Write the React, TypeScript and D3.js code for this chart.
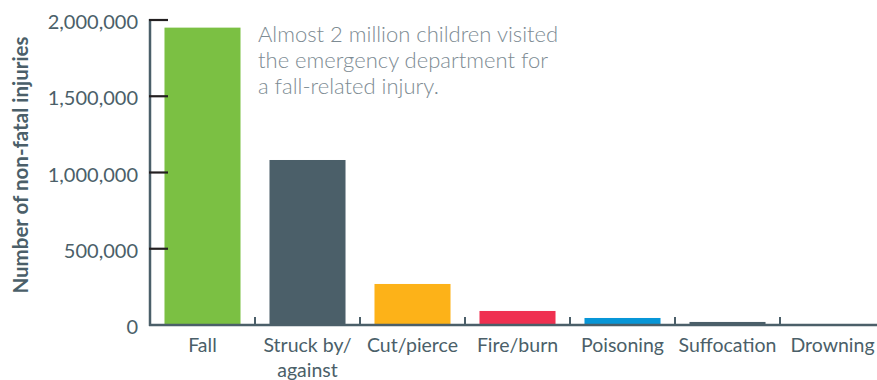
import React from "react";
import * as d3 from "d3";

const categories = ["Fall", "Struck by/\nagainst", "Cut/pierce", "Fire/burn", "Poisoning", "Suffocation", "Drowning"];
const values = [1950000, 1082000, 269000, 92000, 46000, 20000, 4000];
const barColors = ["#7bc043", "#4b5f69", "#fdb218", "#ef3050", "#0796d7", "#4b5f69", "#4b5f69"];
const yTicks = [0, 500000, 1000000, 1500000, 2000000];
const annotation = ["Almost 2 million children visited", "the emergency department for", "a fall-related injury."];
const yTitle = "Number of non-fatal injuries";

const W = 877;
const H = 380;
const slate = "#4b5f69";
const font = "Lato, 'Open Sans', sans-serif";

export default function App() {
  const x = d3.scaleBand<string>().domain(categories).range([150, 885]).paddingInner(0.276).paddingOuter(0.138);
  const y = d3.scaleLinear().domain([0, 2000000]).range([325, 20]);
  const fmt = d3.format(",");
  const step = x.step();
  return (
    <svg width={W} height={H} style={{ position: "absolute", left: 0, top: 0 }}>
      <rect width={W} height={H} fill="#fff" />
      {/* bars */}
      {categories.map((c, i) => (
        <rect key={c} x={x(c)} y={y(values[i])} width={x.bandwidth()} height={y(0) - y(values[i])} fill={barColors[i]} />
      ))}
      {/* x axis */}
      <line x1={149} x2={W} y1={325} y2={325} stroke={slate} strokeWidth={2.5} />
      {categories.slice(1).map((c) => {
        const bx = (x(c) as number) - (step - x.bandwidth()) / 2;
        return <line key={"t" + c} x1={bx} x2={bx} y1={317} y2={325} stroke={slate} strokeWidth={2} />;
      })}
      {/* y axis */}
      <line x1={150} x2={150} y1={19} y2={326} stroke={slate} strokeWidth={2.5} />
      {yTicks.slice(1).map((t) => (
        <line key={"yt" + t} x1={149} x2={168} y1={y(t)} y2={y(t)} stroke="#231f20" strokeWidth={2.2} />
      ))}
      {yTicks.map((t) => (
        <text key={"yl" + t} x={138} y={y(t) + 4} textAnchor="end" dominantBaseline="middle" fontFamily={font} fontSize={20} fill={slate}>
          {fmt(t)}
        </text>
      ))}
      {/* category labels */}
      {categories.map((c) => {
        const cx = (x(c) as number) + x.bandwidth() / 2;
        return (
          <text key={"cl" + c} x={cx} textAnchor="middle" fontFamily={font} fontSize={19.5} fill={slate}>
            {c.split("\n").map((line, j) => (
              <tspan key={j} x={cx} y={352 + j * 25}>
                {line}
              </tspan>
            ))}
          </text>
        );
      })}
      {/* y title */}
      <text
        transform={`translate(28,165) rotate(-90)`}
        textAnchor="middle"
        fontFamily={font}
        fontWeight={700}
        fontSize={20.5}
        fill={slate}
      >
        {yTitle}
      </text>
      {/* annotation */}
      {annotation.map((line, i) => (
        <text key={"a" + i} x={258} y={42 + i * 26} fontFamily={font} fontWeight={300} fontSize={22} fill="#7d8b93">
          {line}
        </text>
      ))}
    </svg>
  );
}
